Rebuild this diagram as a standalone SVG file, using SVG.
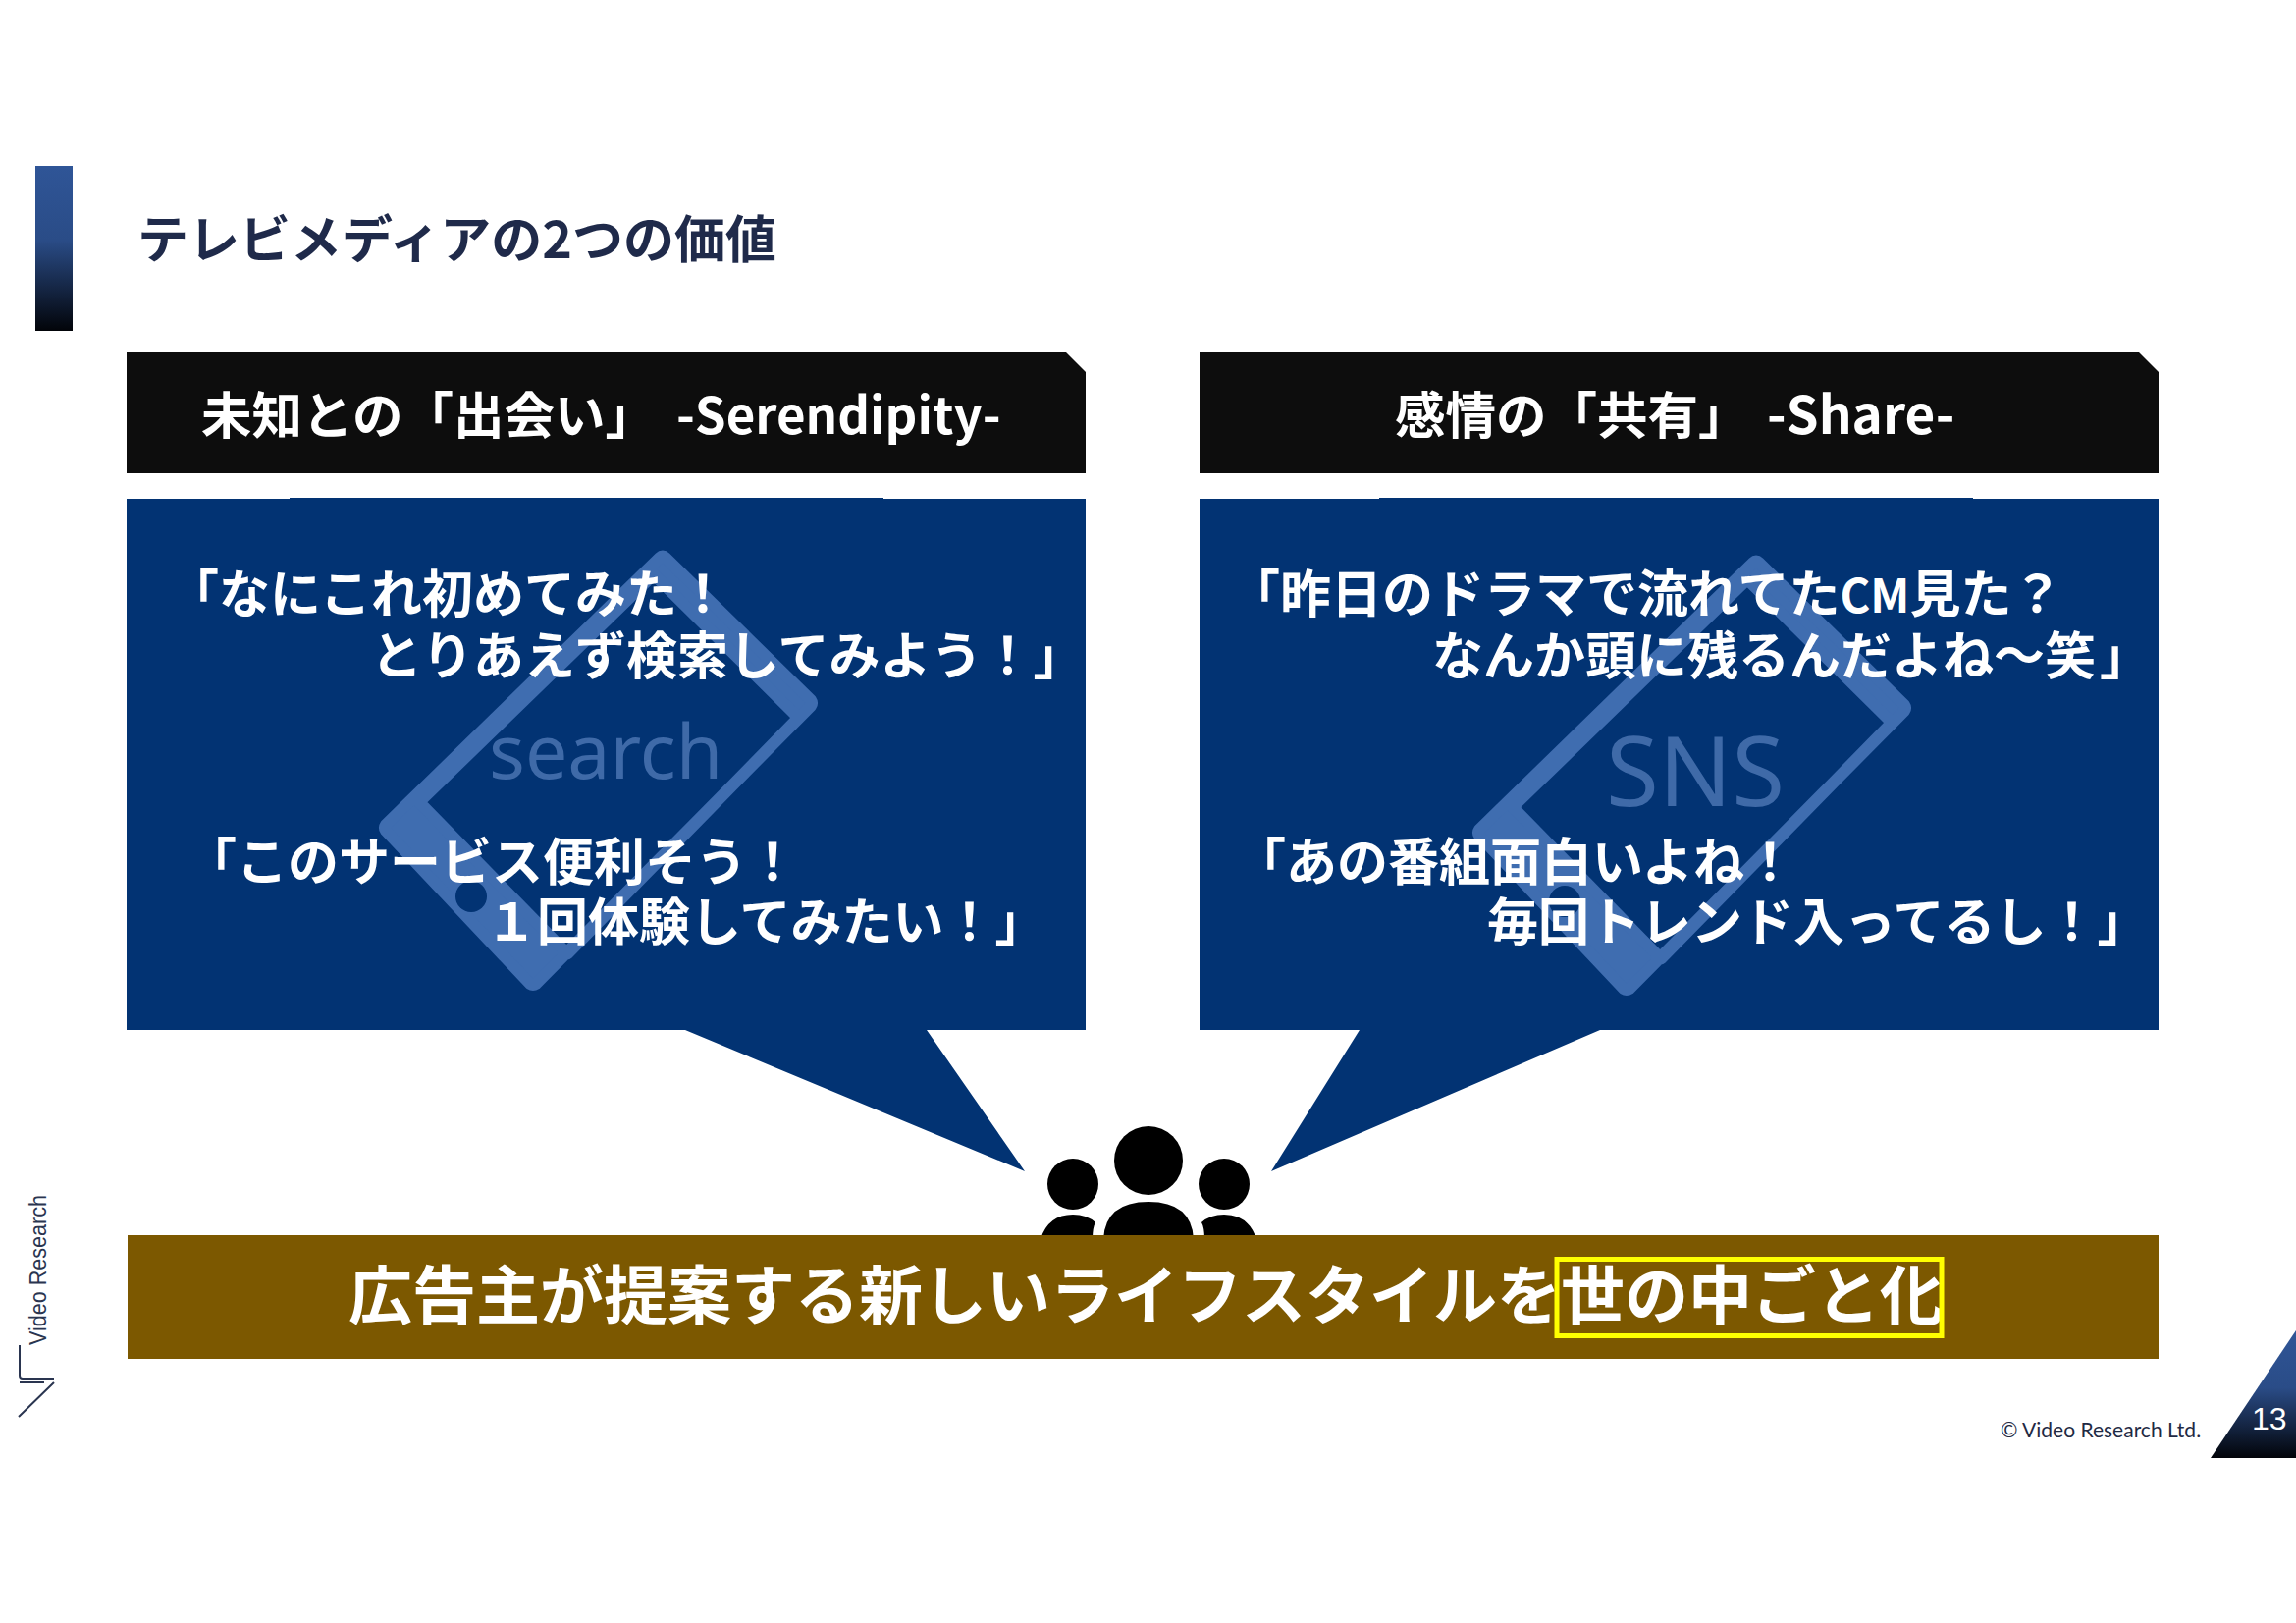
<svg xmlns="http://www.w3.org/2000/svg" xmlns:xlink="http://www.w3.org/1999/xlink" width="2339" height="1653" viewBox="0 0 2339 1653">
<style>
text{font-family:"Noto Sans CJK JP","Noto Sans",sans-serif}
.hd{fill:#0d0d0d}
.bb{fill:#023373}
.q{font-size:52px;font-weight:700;fill:#fff}
.h{font-size:51.5px;font-weight:700;fill:#fff}
.ph{fill:#3f6db0;fill-rule:evenodd;stroke:#3f6db0;stroke-width:12;stroke-linejoin:round}
.wm{fill:#3f6aa8;font-family:"Noto Sans",sans-serif}
.lg{fill:none;stroke:#2a3550;stroke-width:2}
</style>
<defs>
<linearGradient id="g" x1="0" y1="0" x2="0" y2="1"><stop offset="0" stop-color="#2f5597"/><stop offset=".45" stop-color="#2a4c87"/><stop offset="1" stop-color="#020409"/></linearGradient>
<path id="phone" class="ph" d="M678 568L826 713Q828 716 826 719L546 1002Q543 1004 540 1002L393 846Q391 843 393 840L672 568Q675 565 678 568ZM666 585L427 817L578 971.500L813.500 731Z"/>
</defs>
<rect width="2339" height="1653" fill="#fff"/>
<g id="title">
<rect x="36" y="169" width="38" height="168" fill="url(#g)"/>
<text x="140" y="263" font-size="52" font-weight="700" fill="#1f2a4a">テレビメディアの2つの価値</text>
</g>
<g id="left-card">
<path class="hd" d="M129 358H1085L1106 379V482H129Z"/>
<text class="h" y="442"><tspan x="205">未知との「出会い」</tspan><tspan x="689" font-size="51">-Serendipity-</tspan></text>
<rect class="bb" x="295" y="507" width="605" height="2"/>
<path class="bb" d="M129 508H1106V1049H944L1044 1193L698 1049H129Z"/>
<use xlink:href="#phone"/>
<circle cx="480" cy="913" r="16" fill="#023373"/>
<text class="wm" x="498" y="793" font-size="77">search</text>
<text class="q" y="624"><tspan x="171">「なにこれ初めてみた！</tspan><tspan x="378" y="687">とりあえず検索してみよう！」</tspan></text>
<text class="q" y="897"><tspan x="189">「このサービス便利そう！</tspan><tspan x="495" y="958">１回体験してみたい！」</tspan></text>
</g>
<g id="right-card">
<path class="hd" d="M1222 358H2178L2199 379V482H1222Z"/>
<text class="h" y="442"><tspan x="1421">感情の「共有」</tspan><tspan x="1800" font-size="53">-Share-</tspan></text>
<rect class="bb" x="1405" y="507" width="605" height="2"/>
<path class="bb" d="M1222 508H2199V1049H1630L1295 1193L1385 1049H1222Z"/>
<use xlink:href="#phone" x="1114" y="5"/>
<circle cx="1594" cy="918" r="16" fill="#023373"/>
<text class="wm" x="1636" y="821" font-size="98">SNS</text>
<text class="q" y="624"><tspan x="1252">「昨日のドラマで流れてた</tspan><tspan font-size="47">CM</tspan><tspan>見た？</tspan><tspan x="1459" y="687">なんか頭に残るんだよね～笑</tspan><tspan x="2139">」</tspan></text>
<text class="q" y="897"><tspan x="1258">「あの番組面白いよね！</tspan><tspan x="1515" y="958">毎回トレンド入ってるし！」</tspan></text>
</g>
<g id="audience">
<circle cx="1170" cy="1182" r="35"/>
<circle cx="1093" cy="1206" r="26"/>
<circle cx="1247" cy="1206" r="26"/>
<path d="M1124 1262Q1126 1224 1170 1224Q1214 1224 1216 1262Z"/>
<path d="M1060 1262Q1068 1237 1093 1237Q1107 1237 1116 1245Q1113 1250 1113 1262Z"/>
<path d="M1280 1262Q1272 1237 1247 1237Q1233 1237 1224 1245Q1227 1250 1227 1262Z"/>
</g>
<g id="banner">
<rect x="130" y="1258" width="2069" height="126" fill="#7c5800"/>
<text x="355" y="1343" font-size="65" font-weight="700" fill="#fff">広告主が提案する新しいライフスタイルを世の中ごと化</text>
<rect x="1586" y="1282.500" width="392" height="78" fill="none" stroke="#ff0" stroke-width="5"/>
</g>
<g id="logo">
<text transform="translate(47 1370) rotate(-90)" font-size="23" style="font-family:'Liberation Sans',sans-serif" fill="#2a3550" textLength="153" lengthAdjust="spacingAndGlyphs">Video Research</text>
<path class="lg" d="M20 1370V1401Q20 1404 23 1404H55M20 1408H45M55 1408L19 1443"/>
</g>
<g id="footer">
<text x="2038" y="1464" font-size="21" style="font-family:Lato,sans-serif" fill="#1f2a44">© Video Research Ltd.</text>
<path d="M2339 1355V1485H2252Z" fill="url(#g)"/>
<text x="2294" y="1456" font-size="32" style="font-family:'Liberation Sans',sans-serif" fill="#fff">13</text>
</g>
</svg>
